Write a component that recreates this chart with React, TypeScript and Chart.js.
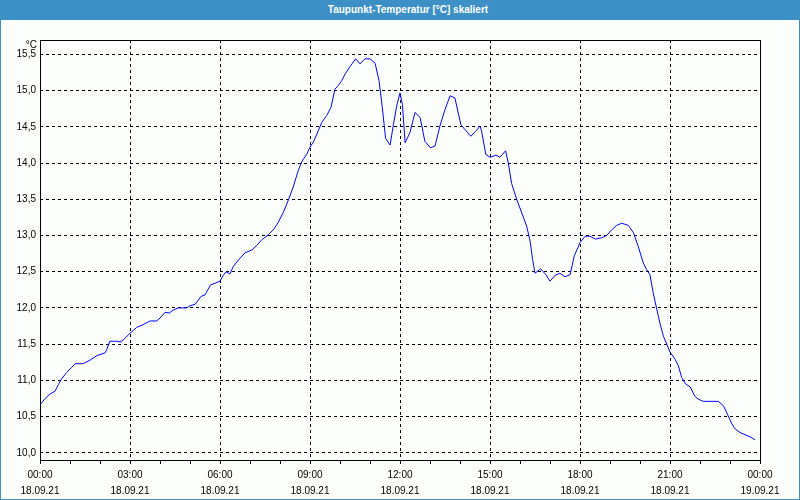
import React, { useEffect, useRef } from "react";
import { Chart, registerables } from "chart.js";

Chart.register(...registerables);

const titleText = "Taupunkt-Temperatur [°C] skaliert";
const unitLabel = "°C";

// time of day in hours (18.09.21 00:00 .. 19.09.21 00:00)
const hours = [
  0.0, 0.17, 0.33, 0.5, 0.61, 0.72, 0.89, 1.06, 1.17, 1.44, 1.67, 1.89, 2.17, 2.22, 2.33, 2.56, 2.67, 2.78,
  3.0, 3.22, 3.44, 3.67, 3.89, 4.0, 4.17, 4.31, 4.44, 4.61, 4.89, 5.0, 5.17, 5.28, 5.37, 5.5, 5.69, 5.83,
  6.0, 6.11, 6.2, 6.33, 6.44, 6.61, 6.83, 7.06, 7.22, 7.39, 7.61, 7.78, 7.94, 8.11, 8.28, 8.44, 8.61, 8.74, 8.89,
  9.0, 9.11, 9.26, 9.39, 9.56, 9.7, 9.83, 9.94, 10.06, 10.17, 10.33, 10.52, 10.67, 10.83, 11.0, 11.17, 11.3,
  11.41, 11.52, 11.67, 11.78, 11.89, 12.0, 12.08, 12.17, 12.33, 12.5, 12.67, 12.83, 13.02, 13.17, 13.33, 13.5,
  13.67, 13.83, 14.03, 14.17, 14.36, 14.52, 14.67, 14.72, 14.86, 15.0, 15.2, 15.33, 15.52, 15.61, 15.72, 15.89,
  16.06, 16.22, 16.33, 16.42, 16.5, 16.69, 16.86, 17.0, 17.17, 17.33, 17.5, 17.67, 17.81, 18.0, 18.17, 18.33,
  18.52, 18.72, 18.89, 19.06, 19.22, 19.39, 19.61, 19.78, 19.94, 20.11, 20.22, 20.33, 20.44, 20.56, 20.67,
  20.78, 20.89, 21.0, 21.17, 21.28, 21.39, 21.52, 21.67, 21.83, 21.94, 22.11, 22.61, 22.78, 22.94, 23.06,
  23.17, 23.33, 23.5, 23.67, 23.83,
];

const dewPoint = [
  10.66, 10.75, 10.81, 10.85, 10.94, 11.02, 11.11, 11.18, 11.23, 11.23, 11.28, 11.34, 11.38, 11.42, 11.54, 11.54, 11.53, 11.56,
  11.65, 11.73, 11.77, 11.82, 11.82, 11.86, 11.94, 11.93, 11.97, 12.0, 12.0, 12.03, 12.05, 12.11, 12.16, 12.18, 12.32, 12.34,
  12.37, 12.45, 12.5, 12.47, 12.57, 12.66, 12.76, 12.8, 12.86, 12.94, 13.01, 13.08, 13.18, 13.32, 13.49, 13.67, 13.9, 14.03, 14.12,
  14.22, 14.29, 14.43, 14.56, 14.66, 14.77, 15.02, 15.07, 15.14, 15.23, 15.33, 15.44, 15.37, 15.44, 15.44, 15.38, 15.14,
  14.77, 14.34, 14.25, 14.53, 14.79, 14.97, 14.81, 14.28, 14.42, 14.7, 14.63, 14.3, 14.21, 14.24, 14.51, 14.74,
  14.93, 14.9, 14.53, 14.46, 14.37, 14.44, 14.51, 14.44, 14.12, 14.08, 14.11, 14.08, 14.17, 14.0, 13.72, 13.5,
  13.31, 13.13, 12.94, 12.67, 12.48, 12.54, 12.46, 12.37, 12.45, 12.48, 12.43, 12.46, 12.72, 12.9, 12.99, 12.99,
  12.95, 12.97, 13.0, 13.08, 13.14, 13.17, 13.14, 13.04, 12.85, 12.62, 12.53, 12.46, 12.21, 11.98, 11.78,
  11.61, 11.5, 11.39, 11.29, 11.2, 11.04, 10.95, 10.91, 10.78, 10.74, 10.71, 10.71, 10.65, 10.51, 10.4,
  10.33, 10.28, 10.25, 10.22, 10.18,
];

const yTicks = [10.0, 10.5, 11.0, 11.5, 12.0, 12.5, 13.0, 13.5, 14.0, 14.5, 15.0, 15.5];
const xTimeLabels = ["00:00", "03:00", "06:00", "09:00", "12:00", "15:00", "18:00", "21:00", "00:00"];
const xDateLabels = ["18.09.21", "18.09.21", "18.09.21", "18.09.21", "18.09.21", "18.09.21", "18.09.21", "18.09.21", "19.09.21"];

const FONT = "'Liberation Sans', Arial, sans-serif";

export default function App() {
  const canvasRef = useRef<HTMLCanvasElement | null>(null);

  useEffect(() => {
    document.body.style.margin = "0";
    const canvas = canvasRef.current;
    if (!canvas) return;

    const framePlugin = {
      id: "frame",
      afterDatasetsDraw(chart: any) {
        const { ctx, chartArea } = chart;
        const l = Math.round(chartArea.left) + 0.5;
        const t = Math.round(chartArea.top) + 0.5;
        const r = Math.round(chartArea.right) + 0.5;
        const b = Math.round(chartArea.bottom) + 0.5;
        ctx.save();
        ctx.strokeStyle = "#000";
        ctx.lineWidth = 1;
        ctx.setLineDash([]);
        ctx.strokeRect(l, t, r - l, b - t);
        ctx.fillStyle = "#000";
        ctx.font = `10px ${FONT}`;
        ctx.textAlign = "right";
        ctx.textBaseline = "middle";
        ctx.fillText(unitLabel, chartArea.left - 3, chartArea.top + 5);
        ctx.restore();
      },
    };

    const chart = new Chart(canvas, {
      type: "line",
      data: {
        datasets: [
          {
            data: hours.map((h, i) => ({ x: h, y: dewPoint[i] })),
            borderColor: "#0000ff",
            borderWidth: 1,
            pointRadius: 0,
            tension: 0,
            fill: false,
          },
        ],
      },
      options: {
        animation: false,
        responsive: false,
        maintainAspectRatio: false,
        layout: { padding: { top: 20, right: 39, left: 0, bottom: 0 } },
        plugins: { legend: { display: false }, tooltip: { enabled: false }, title: { display: false } },
        scales: {
          x: {
            type: "linear",
            min: 0,
            max: 24,
            afterFit(scale: any) {
              scale.height = 39;
            },
            border: { display: false, dash: [3, 3] },
            grid: {
              color: (ctx: any) => (ctx.tick && ctx.tick.value % 3 === 0 ? "#000" : "rgba(0,0,0,0)"),
              lineWidth: 1,
              drawTicks: true,
              tickLength: 4,
              tickColor: "#000",
              tickBorderDash: [],
            },
            ticks: {
              stepSize: 1,
              autoSkip: false,
              maxRotation: 0,
              minRotation: 0,
              padding: 3,
              color: "#000",
              font: { family: FONT, size: 10, lineHeight: 1.6 },
              callback: (v: any) => {
                const n = Number(v);
                if (n % 3 !== 0) return "";
                const i = n / 3;
                return [xTimeLabels[i], xDateLabels[i]];
              },
            },
          },
          y: {
            type: "linear",
            min: 9.9,
            max: 15.7,
            afterFit(scale: any) {
              scale.width = 39;
            },
            afterBuildTicks(scale: any) {
              scale.ticks = yTicks.map((v) => ({ value: v }));
            },
            border: { display: false, dash: [3, 3] },
            grid: { color: "#000", lineWidth: 1, drawTicks: false },
            ticks: {
              padding: 4,
              color: "#000",
              font: { family: FONT, size: 10 },
              callback: (v: any) => Number(v).toFixed(1).replace(".", ","),
            },
          },
        },
      },
      plugins: [framePlugin],
    });

    return () => chart.destroy();
  }, []);

  return (
    <div style={{ position: "relative", width: 800, height: 500, background: "#3c90c6" }}>
      <div
        style={{
          position: "absolute",
          left: 0,
          top: 0,
          width: 800,
          height: 20,
          lineHeight: "19px",
          textAlign: "center",
          color: "#ffffff",
          fontFamily: FONT,
          fontWeight: "bold",
          fontSize: 10,
          paddingLeft: 16,
          boxSizing: "border-box",
        }}
      >
        {titleText}
      </div>
      <div style={{ position: "absolute", left: 1, top: 20, width: 798, height: 479, background: "#fcfefc" }}>
        <canvas ref={canvasRef} width={798} height={479} style={{ display: "block" }} />
      </div>
    </div>
  );
}
